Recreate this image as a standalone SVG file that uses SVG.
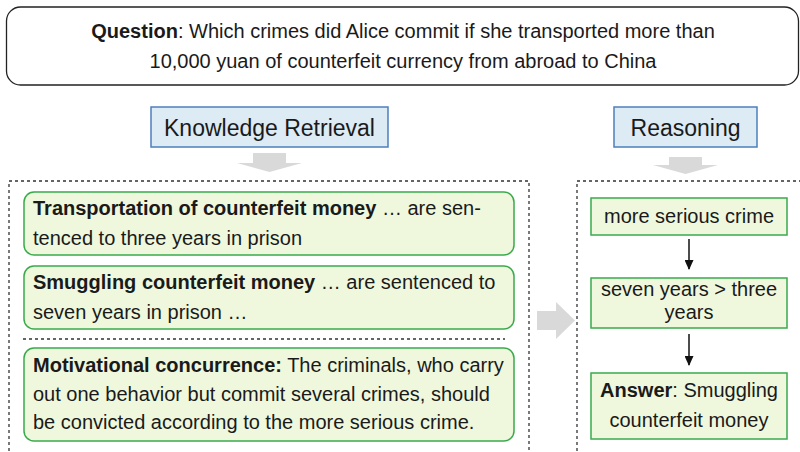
<svg xmlns="http://www.w3.org/2000/svg" width="800" height="452" viewBox="0 0 800 452">
<style>
text{font-family:"Liberation Sans",Arial,sans-serif;fill:#1a1a1a;font-size:20px}
.b{font-weight:bold}
.c{text-anchor:middle}
.h{font-size:23px}
.hd{fill:#dcebf4;stroke:#4d7fbb;stroke-width:1.5}
.gr{fill:#eff8dd;stroke:#3aaa4c;stroke-width:1.5}
.dash{fill:none;stroke:#333;stroke-width:1.3;stroke-dasharray:3 3}
.ga{fill:#d9d9d9}
.ln{stroke:#111;stroke-width:1.5;fill:none}
</style>
<defs>
<marker id="ah" viewBox="0 0 10 10" refX="9" refY="5" markerWidth="10" markerHeight="9" markerUnits="userSpaceOnUse" orient="auto" preserveAspectRatio="none"><path d="M0,0 L10,5 L0,10 z" fill="#111"/></marker>
</defs>
<g id="question">
<rect x="6.5" y="7" width="792" height="78" rx="14" fill="#fff" stroke="#222" stroke-width="1.3"/>
<text class="c" x="403" y="38"><tspan class="b">Question</tspan>: Which crimes did Alice commit if she transported more than</text>
<text class="c" x="403" y="68">10,000 yuan of counterfeit currency from abroad to China</text>
</g>
<g id="knowledge-retrieval">
<rect class="hd" x="151" y="107" width="237" height="40"/>
<text class="c h" x="269.5" y="136">Knowledge Retrieval</text>
</g>
<g id="reasoning">
<rect class="hd" x="614" y="107" width="143" height="40"/>
<text class="c h" x="685.5" y="136">Reasoning</text>
</g>
<g id="retrieval-panel">
<rect class="dash" x="9" y="181" width="520" height="290"/>
</g>
<g id="reasoning-panel">
<rect class="dash" x="577" y="181" width="250" height="290"/>
</g>
<g id="law1">
<rect class="gr" x="24" y="192" width="490" height="63" rx="10"/>
<text x="33" y="215"><tspan class="b">Transportation of counterfeit money</tspan> … are sen-</text>
<text x="33" y="245">tenced to three years in prison</text>
</g>
<g id="law2">
<rect class="gr" x="24" y="266" width="490" height="63" rx="10"/>
<text x="33" y="289"><tspan class="b">Smuggling counterfeit money</tspan> … are sentenced to</text>
<text x="33" y="319">seven years in prison …</text>
</g>
<line class="dash" x1="23" y1="339" x2="505" y2="339"/>
<g id="principle">
<rect class="gr" x="24" y="348" width="490" height="93" rx="10"/>
<text x="33" y="372"><tspan class="b">Motivational concurrence:</tspan> The criminals, who carry</text>
<text x="33" y="401">out one behavior but commit several crimes, should</text>
<text x="33" y="429">be convicted according to the more serious crime.</text>
</g>
<g id="step1">
<rect class="gr" x="591" y="198" width="196" height="37"/>
<text class="c" x="689" y="223">more serious crime</text>
</g>
<g id="step2">
<rect class="gr" x="591" y="278" width="196" height="50"/>
<text class="c" x="689" y="296">seven years &gt; three</text>
<text class="c" x="689" y="319">years</text>
</g>
<g id="answer">
<rect class="gr" x="591" y="373" width="196" height="66"/>
<text class="c" x="689" y="397"><tspan class="b">Answer</tspan>: Smuggling</text>
<text class="c" x="689" y="427">counterfeit money</text>
</g>
<g id="connectors">
<path class="ga" d="M253,153 H286 V163 H302 L269.5,172 L237,163 H253 Z"/>
<path class="ga" d="M669,157 H702 V165 H718 L685.5,174 L653,165 H669 Z"/>
<path class="ga" d="M537,311 H556 V302 L575,320.5 L556,339 V330 H537 Z"/>
<line class="ln" x1="689" y1="239" x2="689" y2="269" marker-end="url(#ah)"/>
<line class="ln" x1="689" y1="334" x2="689" y2="365" marker-end="url(#ah)"/>
</g>
</svg>
